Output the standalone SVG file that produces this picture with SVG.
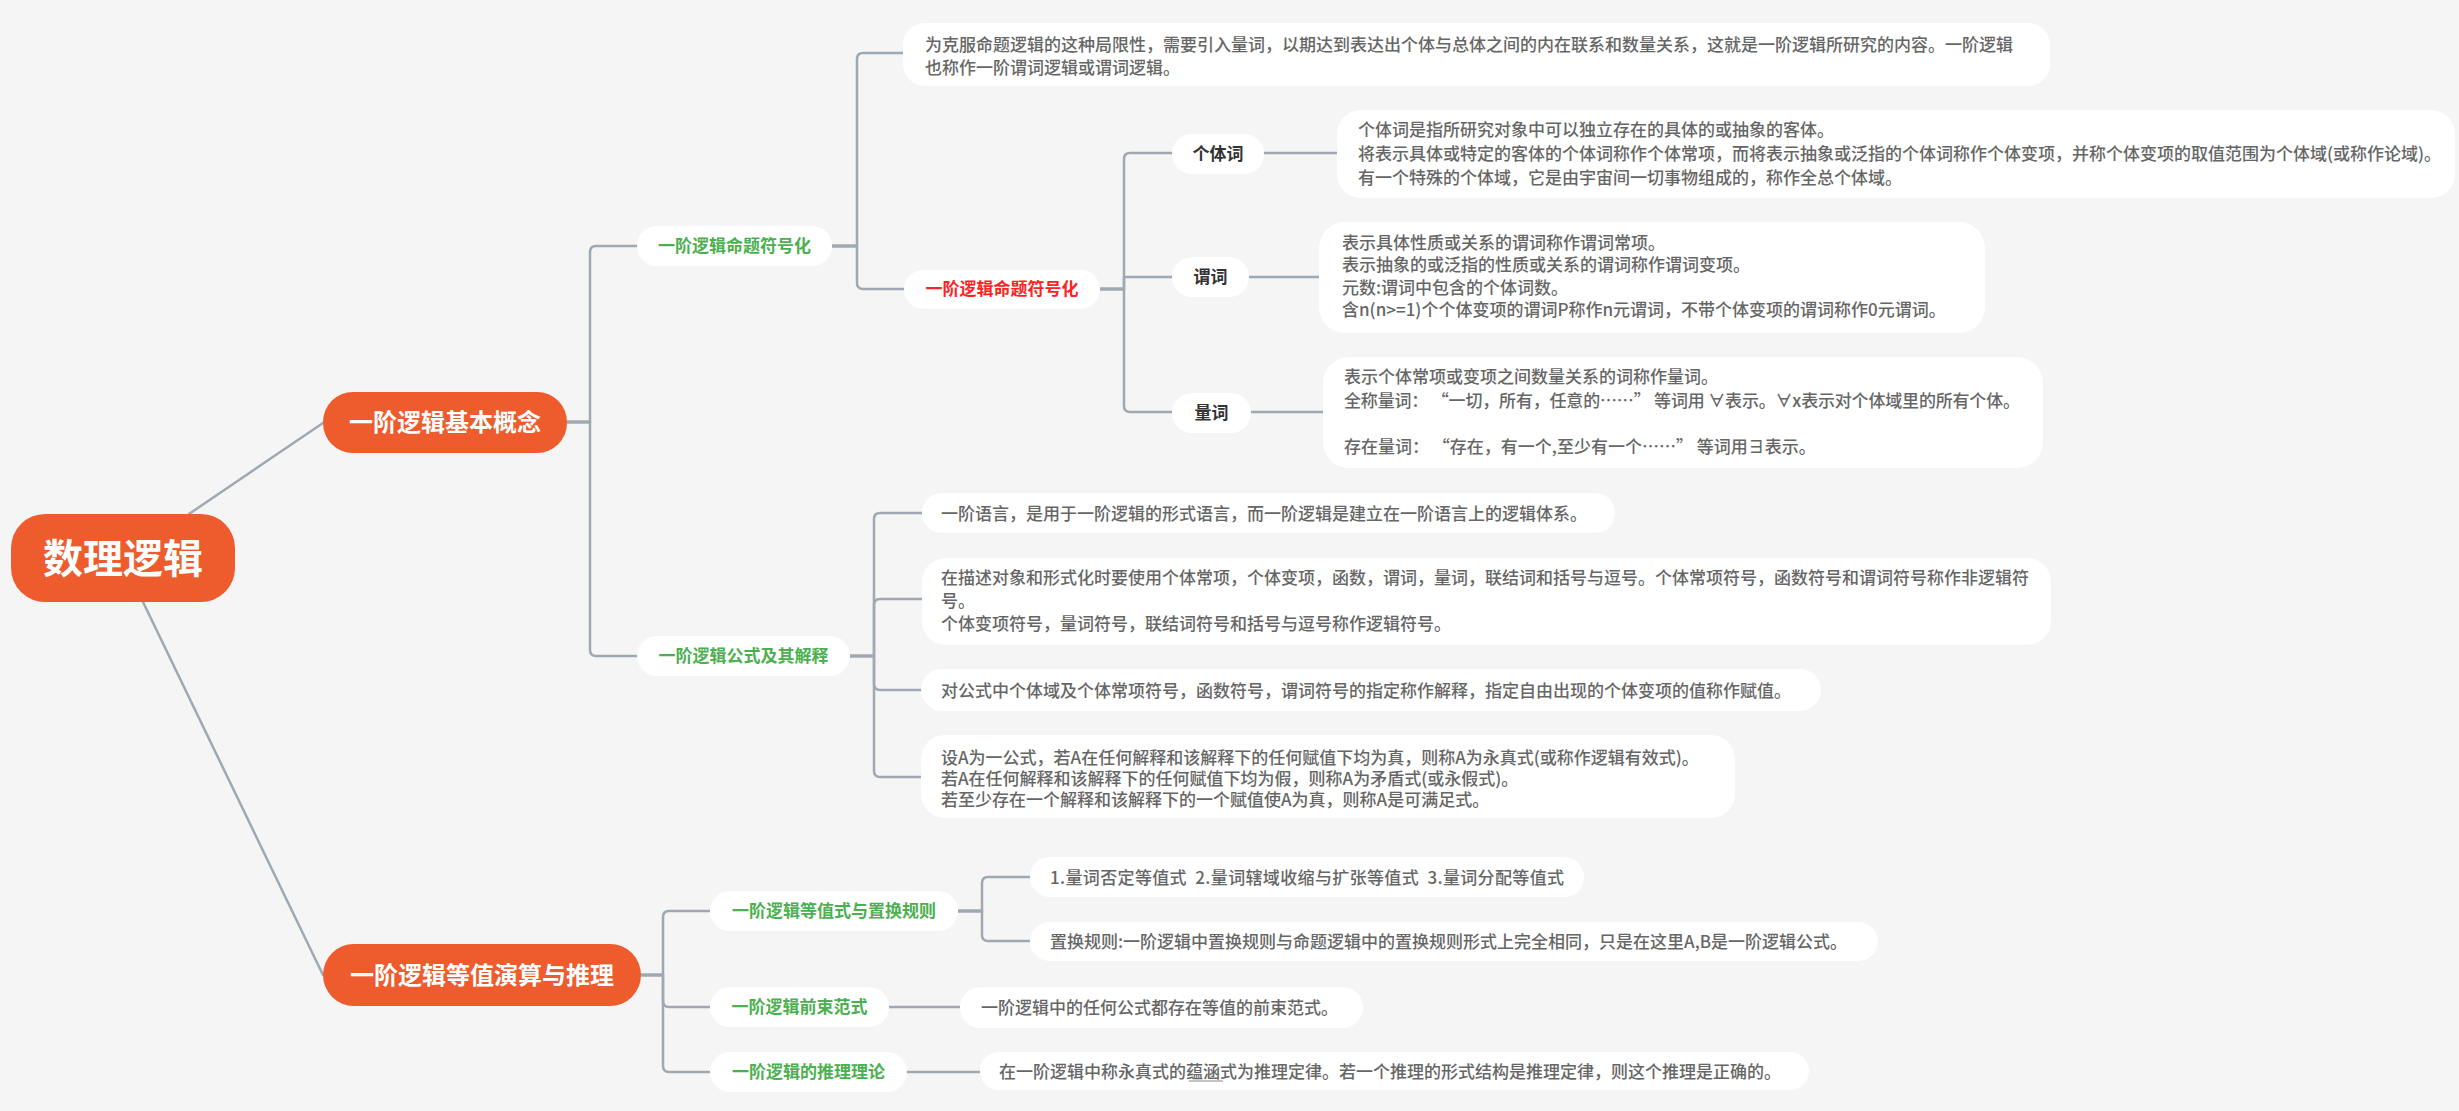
<svg xmlns="http://www.w3.org/2000/svg" width="2459" height="1111" viewBox="0 0 2459 1111">
<style>
text{font-family:"Noto Sans CJK SC","Noto Sans",sans-serif;}
.root{fill:#EE5B2C;}
.rt{fill:#fff;font-weight:700;font-size:40px;text-anchor:middle;}
.l1{fill:#EE5B2C;}
.l1t{fill:#fff;font-weight:700;font-size:24px;text-anchor:middle;}
.pill{fill:#fff;}
.gt{fill:#4CAF50;font-weight:700;font-size:17px;text-anchor:middle;}
.redt{fill:#FF2222;font-weight:700;font-size:17px;text-anchor:middle;}
.kt{fill:#333;font-weight:700;font-size:17px;text-anchor:middle;}
.dt{fill:#666;font-weight:500;font-size:17px;white-space:pre;}
.c{fill:none;stroke:#A0A8B2;stroke-width:2.5;stroke-linecap:round;stroke-linejoin:round;}
.s{fill:none;stroke:#A0A8B2;stroke-width:3.5;}
</style>
<rect width="2459" height="1111" fill="#F5F5F5"/>

<g id="connectors">
  <path class="c" d="M189 514 L323 423"/>
  <path class="c" d="M143 602 L323 975"/>
  <path class="s" d="M567 422 H590"/>
  <path class="c" d="M590 422 V252 Q590 246 596 246 H637"/>
  <path class="c" d="M590 422 V650 Q590 656 596 656 H637"/>
  <path class="s" d="M832 246 H857"/>
  <path class="c" d="M857 246 V59 Q857 53 863 53 H903"/>
  <path class="c" d="M857 246 V283 Q857 289 863 289 H904"/>
  <path class="s" d="M1100 289 H1124"/>
  <path class="c" d="M1124 289 V159 Q1124 153 1130 153 H1172"/>
  <path class="c" d="M1124 289 V277 H1172"/>
  <path class="c" d="M1124 289 V406 Q1124 412 1130 412 H1172"/>
  <path class="c" d="M1264 153 H1337"/>
  <path class="c" d="M1249 277 H1319"/>
  <path class="c" d="M1251 412 H1323"/>
  <path class="s" d="M850 656 H874"/>
  <path class="c" d="M874 656 V519 Q874 513 880 513 H922"/>
  <path class="c" d="M874 656 V605 Q874 599 880 599 H922"/>
  <path class="c" d="M874 656 V684 Q874 690 880 690 H921"/>
  <path class="c" d="M874 656 V771 Q874 777 880 777 H921"/>
  <path class="s" d="M641 975 H663"/>
  <path class="c" d="M663 975 V917 Q663 911 669 911 H710"/>
  <path class="c" d="M663 975 V1001 Q663 1007 669 1007 H710"/>
  <path class="c" d="M663 975 V1066 Q663 1072 669 1072 H710"/>
  <path class="s" d="M958 911 H982"/>
  <path class="c" d="M982 911 V883 Q982 877 988 877 H1030"/>
  <path class="c" d="M982 911 V935 Q982 941 988 941 H1030"/>
  <path class="c" d="M889 1007 H960"/>
  <path class="c" d="M907 1072 H980"/>
</g>

<g id="root">
  <rect class="root" x="11" y="514" width="224" height="88" rx="34"/>
  <text class="rt" x="123" y="573">数理逻辑</text>
</g>

<g id="n-basic">
  <rect class="l1" x="323" y="392" width="244" height="61" rx="30"/>
  <text class="l1t" x="445" y="431">一阶逻辑基本概念</text>
</g>

<g id="n-calc">
  <rect class="l1" x="323" y="944" width="318" height="62" rx="31"/>
  <text class="l1t" x="482" y="984">一阶逻辑等值演算与推理</text>
</g>

<g id="n-symb">
  <rect class="pill" x="637" y="226" width="195" height="40" rx="20"/>
  <text class="gt" x="734.5" y="252">一阶逻辑命题符号化</text>
</g>

<g id="n-formula">
  <rect class="pill" x="637" y="636" width="213" height="40" rx="20"/>
  <text class="gt" x="743.5" y="662">一阶逻辑公式及其解释</text>
</g>

<g id="d-intro">
  <rect class="pill" x="903" y="23" width="1147" height="63" rx="22"/>
  <text class="dt" x="925" y="51">为克服命题逻辑的这种局限性，需要引入量词，以期达到表达出个体与总体之间的内在联系和数量关系，这就是一阶逻辑所研究的内容。一阶逻辑</text>
  <text class="dt" x="925" y="74">也称作一阶谓词逻辑或谓词逻辑。</text>
</g>

<g id="n-red">
  <rect class="pill" x="904" y="270" width="196" height="39" rx="19.5"/>
  <text class="redt" x="1002" y="295">一阶逻辑命题符号化</text>
</g>

<g id="n-ind">
  <rect class="pill" x="1172" y="134" width="92" height="40" rx="20"/>
  <text class="kt" x="1218" y="160">个体词</text>
</g>

<g id="n-pred">
  <rect class="pill" x="1172" y="257" width="77" height="40" rx="20"/>
  <text class="kt" x="1210.5" y="283">谓词</text>
</g>

<g id="n-quant">
  <rect class="pill" x="1172" y="393" width="79" height="40" rx="20"/>
  <text class="kt" x="1211.5" y="419">量词</text>
</g>

<g id="d-ind">
  <rect class="pill" x="1337" y="110" width="1118" height="88" rx="24"/>
  <text class="dt" x="1358" y="135.5">个体词是指所研究对象中可以独立存在的具体的或抽象的客体。</text>
  <text class="dt" x="1358" y="160">将表示具体或特定的客体的个体词称作个体常项，而将表示抽象或泛指的个体词称作个体变项，并称个体变项的取值范围为个体域(或称作论域)。</text>
  <text class="dt" x="1358" y="183.5">有一个特殊的个体域，它是由宇宙间一切事物组成的，称作全总个体域。</text>
</g>

<g id="d-pred">
  <rect class="pill" x="1319" y="222" width="666" height="111" rx="26"/>
  <text class="dt" x="1342" y="248.5">表示具体性质或关系的谓词称作谓词常项。</text>
  <text class="dt" x="1342" y="271">表示抽象的或泛指的性质或关系的谓词称作谓词变项。</text>
  <text class="dt" x="1342" y="293.5">元数:谓词中包含的个体词数。</text>
  <text class="dt" x="1342" y="316">含n(n&gt;=1)个个体变项的谓词P称作n元谓词，不带个体变项的谓词称作0元谓词。</text>
</g>

<g id="d-quant">
  <rect class="pill" x="1323" y="357" width="720" height="111" rx="26"/>
  <text class="dt" x="1344" y="383">表示个体常项或变项之间数量关系的词称作量词。</text>
  <text class="dt" x="1344" y="406.5" textLength="676" lengthAdjust="spacing">全称量词： “一切，所有，任意的……” 等词用 ∀表示。∀x表示对个体域里的所有个体。</text>
  <text class="dt" x="1344" y="453">存在量词： “存在，有一个,至少有一个……” 等词用∃表示。</text>
</g>

<g id="d-lang">
  <rect class="pill" x="922" y="493" width="693" height="40" rx="20"/>
  <text class="dt" x="941" y="519.5">一阶语言，是用于一阶逻辑的形式语言，而一阶逻辑是建立在一阶语言上的逻辑体系。</text>
</g>

<g id="d-symbols">
  <rect class="pill" x="922" y="558" width="1129" height="87" rx="24"/>
  <text class="dt" x="941" y="584">在描述对象和形式化时要使用个体常项，个体变项，函数，谓词，量词，联结词和括号与逗号。个体常项符号，函数符号和谓词符号称作非逻辑符</text>
  <text class="dt" x="941" y="607">号。</text>
  <text class="dt" x="941" y="630">个体变项符号，量词符号，联结词符号和括号与逗号称作逻辑符号。</text>
</g>

<g id="d-interp">
  <rect class="pill" x="921" y="669" width="900" height="42" rx="21"/>
  <text class="dt" x="941" y="696.5">对公式中个体域及个体常项符号，函数符号，谓词符号的指定称作解释，指定自由出现的个体变项的值称作赋值。</text>
</g>

<g id="d-valid">
  <rect class="pill" x="921" y="735" width="814" height="83" rx="24"/>
  <text class="dt" x="941" y="763.5">设A为一公式，若A在任何解释和该解释下的任何赋值下均为真，则称A为永真式(或称作逻辑有效式)。</text>
  <text class="dt" x="941" y="784.5">若A在任何解释和该解释下的任何赋值下均为假，则称A为矛盾式(或永假式)。</text>
  <text class="dt" x="941" y="806">若至少存在一个解释和该解释下的一个赋值使A为真，则称A是可满足式。</text>
</g>

<g id="n-equiv">
  <rect class="pill" x="710" y="891" width="248" height="40" rx="20"/>
  <text class="gt" x="834" y="917">一阶逻辑等值式与置换规则</text>
</g>

<g id="n-prenex">
  <rect class="pill" x="710" y="987" width="179" height="40" rx="20"/>
  <text class="gt" x="799.5" y="1013">一阶逻辑前束范式</text>
</g>

<g id="n-infer">
  <rect class="pill" x="710" y="1052" width="197" height="40" rx="20"/>
  <text class="gt" x="808.5" y="1078">一阶逻辑的推理理论</text>
</g>

<g id="d-equiv">
  <rect class="pill" x="1030" y="857" width="554" height="40" rx="20"/>
  <text class="dt" x="1050" y="883.5" textLength="514" lengthAdjust="spacing">1.量词否定等值式  2.量词辖域收缩与扩张等值式  3.量词分配等值式</text>
</g>

<g id="d-replace">
  <rect class="pill" x="1030" y="922" width="848" height="39" rx="19.5"/>
  <text class="dt" x="1050" y="947.5">置换规则:一阶逻辑中置换规则与命题逻辑中的置换规则形式上完全相同，只是在这里A,B是一阶逻辑公式。</text>
</g>

<g id="d-prenex">
  <rect class="pill" x="960" y="987" width="403" height="41" rx="20.5"/>
  <text class="dt" x="981" y="1013.5">一阶逻辑中的任何公式都存在等值的前束范式。</text>
</g>

<g id="d-infer">
  <rect class="pill" x="980" y="1052" width="829" height="38" rx="19"/>
  <text class="dt" x="999" y="1077.5">在一阶逻辑中称永真式的蕴涵式为推理定律。若一个推理的形式结构是推理定律，则这个推理是正确的。</text>
  <line x1="1189" y1="1081" x2="1223" y2="1081" stroke="#8A8A8A" stroke-width="1.2"/>
</g>
</svg>
